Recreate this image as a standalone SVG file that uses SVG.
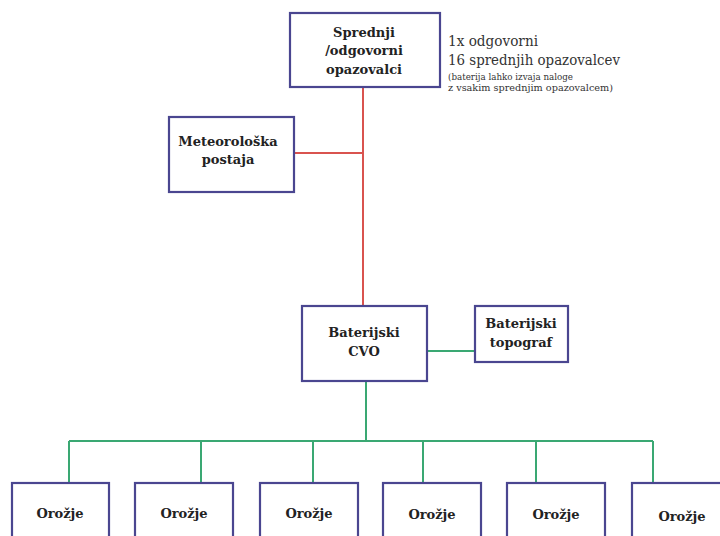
<svg xmlns="http://www.w3.org/2000/svg" width="720" height="536" viewBox="0 0 720 536">
<style>
.box{fill:#fff;stroke:#4a4690;stroke-width:2.2}
.lbl{font-family:'DejaVu Serif',serif;font-weight:bold;font-size:13px;fill:#222;text-anchor:middle}
.note{font-family:'DejaVu Serif',serif;fill:#333}
.red{stroke:#d9534f;stroke-width:2;fill:none}
.grn{stroke:#3aa873;stroke-width:2;fill:none}
</style>
<rect width="720" height="536" fill="#fff"/>
<g id="connectors">
<path class="red" d="M363 87V306M294 153H363"/>
<path class="grn" d="M427 351H475M366 381V441M69 441H653M69 441V483M201 441V483M313 441V483M423 441V483M536 441V483M653 441V483"/>
</g>
<g id="n-spredni">
<rect class="box" x="290" y="13" width="150" height="74"/>
<text class="lbl" x="364" y="37">Sprednji</text>
<text class="lbl" x="364" y="55">/odgovorni</text>
<text class="lbl" x="364" y="74">opazovalci</text>
</g>
<g id="n-note">
<text class="note" x="448" y="46" font-size="14" textLength="90" lengthAdjust="spacingAndGlyphs">1x odgovorni</text>
<text class="note" x="448" y="65" font-size="14" textLength="172" lengthAdjust="spacingAndGlyphs">16 sprednjih opazovalcev</text>
<text class="note" x="448" y="80" font-size="8.5" textLength="125" lengthAdjust="spacingAndGlyphs">(baterija lahko izvaja naloge</text>
<text class="note" x="448" y="91" font-size="8.5" textLength="165" lengthAdjust="spacingAndGlyphs">z vsakim sprednjim opazovalcem)</text>
</g>
<g id="n-meteo">
<rect class="box" x="169" y="117" width="125" height="75"/>
<text class="lbl" x="228" y="146">Meteorološka</text>
<text class="lbl" x="228" y="164">postaja</text>
</g>
<g id="n-cvo">
<rect class="box" x="302" y="306" width="125" height="75"/>
<text class="lbl" x="364" y="337">Baterijski</text>
<text class="lbl" x="364" y="356">CVO</text>
</g>
<g id="n-topo">
<rect class="box" x="475" y="306" width="93" height="56"/>
<text class="lbl" x="521" y="328">Baterijski</text>
<text class="lbl" x="521" y="347">topograf</text>
</g>
<g id="n-o1"><rect class="box" x="12" y="483" width="97" height="70"/><text class="lbl" x="60" y="518">Orožje</text></g>
<g id="n-o2"><rect class="box" x="135" y="483" width="98" height="70"/><text class="lbl" x="184" y="518">Orožje</text></g>
<g id="n-o3"><rect class="box" x="260" y="483" width="98" height="70"/><text class="lbl" x="309" y="518">Orožje</text></g>
<g id="n-o4"><rect class="box" x="383" y="483" width="98" height="70"/><text class="lbl" x="432" y="519">Orožje</text></g>
<g id="n-o5"><rect class="box" x="507" y="483" width="98" height="70"/><text class="lbl" x="556" y="519">Orožje</text></g>
<g id="n-o6"><rect class="box" x="632" y="483" width="98" height="70"/><text class="lbl" x="682" y="521">Orožje</text></g>
</svg>
